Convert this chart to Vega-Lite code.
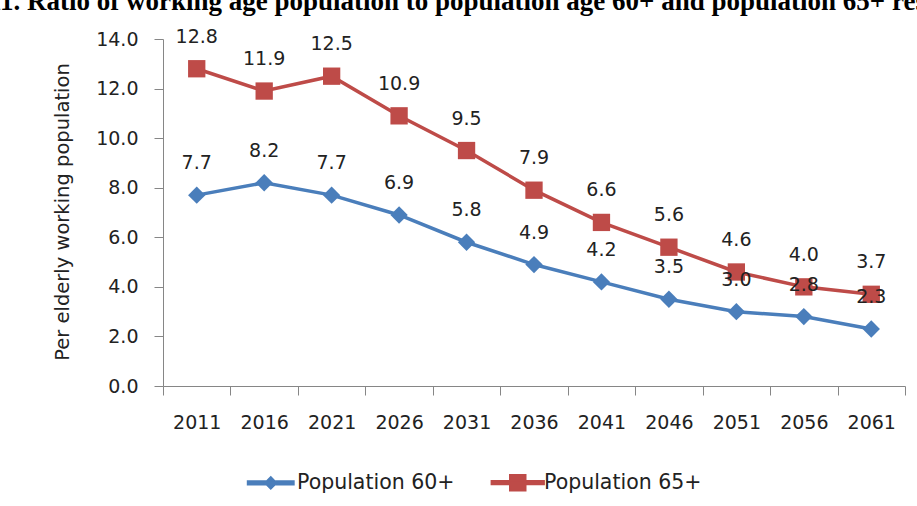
{
  "$schema": "https://vega.github.io/schema/vega-lite/v6.json",
  "autosize": {"type": "none"},
  "width": 742,
  "height": 347,
  "padding": {"left": 163, "top": 39, "right": 12, "bottom": 120},
  "background": "white",
  "title": {
    "text": "11. Ratio of working age population to population age 60+ and population 65+ residents",
    "font": "Liberation Serif",
    "fontWeight": "bold",
    "fontSize": 27,
    "color": "#000000",
    "anchor": "start",
    "frame": "group",
    "baseline": "alphabetic",
    "offset": -9,
    "dx": -175
  },
  "data": {
    "values": [
      {"year": "2011", "series": "Population 60+", "value": 7.7},
      {"year": "2016", "series": "Population 60+", "value": 8.2},
      {"year": "2021", "series": "Population 60+", "value": 7.7},
      {"year": "2026", "series": "Population 60+", "value": 6.9},
      {"year": "2031", "series": "Population 60+", "value": 5.8},
      {"year": "2036", "series": "Population 60+", "value": 4.9},
      {"year": "2041", "series": "Population 60+", "value": 4.2},
      {"year": "2046", "series": "Population 60+", "value": 3.5},
      {"year": "2051", "series": "Population 60+", "value": 3.0},
      {"year": "2056", "series": "Population 60+", "value": 2.8},
      {"year": "2061", "series": "Population 60+", "value": 2.3},
      {"year": "2011", "series": "Population 65+", "value": 12.8},
      {"year": "2016", "series": "Population 65+", "value": 11.9},
      {"year": "2021", "series": "Population 65+", "value": 12.5},
      {"year": "2026", "series": "Population 65+", "value": 10.9},
      {"year": "2031", "series": "Population 65+", "value": 9.5},
      {"year": "2036", "series": "Population 65+", "value": 7.9},
      {"year": "2041", "series": "Population 65+", "value": 6.6},
      {"year": "2046", "series": "Population 65+", "value": 5.6},
      {"year": "2051", "series": "Population 65+", "value": 4.6},
      {"year": "2056", "series": "Population 65+", "value": 4.0},
      {"year": "2061", "series": "Population 65+", "value": 3.7}
    ]
  },
  "config": {
    "view": {"stroke": null},
    "font": "DejaVu Sans",
    "axis": {
      "grid": false,
      "domainColor": "#868686",
      "tickColor": "#868686",
      "labelFont": "DejaVu Sans",
      "labelFontSize": 19,
      "labelColor": "#222222",
      "titleFont": "DejaVu Sans",
      "titleFontSize": 19.5,
      "titleFontWeight": "normal",
      "titleColor": "#222222"
    },
    "legend": {
      "symbolOpacity": 1
    }
  },
  "encoding": {
    "x": {
      "field": "year",
      "type": "nominal",
      "sort": null,
      "scale": {"type": "band", "paddingInner": 0, "paddingOuter": 0},
      "axis": {
        "title": null,
        "labelAngle": 0,
        "tickBand": "extent",
        "tickSize": 9,
        "labelPadding": 18
      }
    },
    "y": {
      "field": "value",
      "type": "quantitative",
      "scale": {"domain": [0, 14], "nice": false},
      "axis": {
        "title": "Per elderly working population",
        "values": [0, 2, 4, 6, 8, 10, 12, 14],
        "format": ".1f",
        "tickSize": 9,
        "labelPadding": 16,
        "titleX": -101,
        "titleY": 172.5,
        "titleAlign": "center",
        "titleBaseline": "middle",
        "titleAngle": -90
      }
    }
  },
  "layer": [
    {
      "mark": {"type": "point", "filled": true, "opacity": 0},
      "encoding": {
        "fill": {
          "field": "series",
          "type": "nominal",
          "scale": {"domain": ["Population 60+", "Population 65+"], "range": ["#4A7EBB", "#BE4B48"]},
          "legend": {
            "title": null,
            "orient": "none",
            "legendX": 97.5,
            "legendY": 433,
            "direction": "horizontal",
            "columns": 2,
            "columnPadding": 33,
            "padding": 0,
            "symbolSize": 256,
            "symbolOpacity": 1,
            "labelOffset": 16,
            "labelFont": "DejaVu Sans",
            "labelFontSize": 20.5,
            "labelColor": "#222222",
            "labelLimit": 300
          }
        },
        "shape": {
          "field": "series",
          "type": "nominal",
          "scale": {"domain": ["Population 60+", "Population 65+"], "range": ["M-2.9,-0.22L2.9,-0.22L2.9,0.22L-2.9,0.22ZM0,-0.75L0.75,0L0,0.75L-0.75,0Z", "M-3.3,-0.22L3.3,-0.22L3.3,0.22L-3.3,0.22ZM-1,-1L1,-1L1,1L-1,1Z"]},
          "legend": {
            "title": null,
            "orient": "none",
            "legendX": 97.5,
            "legendY": 433,
            "direction": "horizontal",
            "columns": 2,
            "columnPadding": 33,
            "padding": 0,
            "symbolSize": 256,
            "symbolOpacity": 1,
            "labelOffset": 16,
            "labelFont": "DejaVu Sans",
            "labelFontSize": 20.5,
            "labelColor": "#222222",
            "labelLimit": 300
          }
        }
      }
    },
    {
      "mark": {"type": "line", "strokeWidth": 3.5},
      "encoding": {
        "color": {
          "field": "series",
          "type": "nominal",
          "scale": {"domain": ["Population 60+", "Population 65+"], "range": ["#4A7EBB", "#BE4B48"]},
          "legend": null
        }
      }
    },
    {
      "transform": [{"filter": "datum.series === 'Population 60+'"}],
      "mark": {"type": "point", "filled": true, "opacity": 1, "size": 300, "shape": "diamond", "color": "#4A7EBB"}
    },
    {
      "transform": [{"filter": "datum.series === 'Population 65+'"}],
      "mark": {"type": "point", "filled": true, "opacity": 1, "size": 300, "shape": "square", "color": "#BE4B48"}
    },
    {
      "mark": {"type": "text", "dy": -32, "baseline": "middle", "fontSize": 19, "font": "DejaVu Sans"},
      "encoding": {
        "text": {"field": "value", "type": "quantitative", "format": ".1f"},
        "color": {"value": "#222222"}
      }
    }
  ]
}
